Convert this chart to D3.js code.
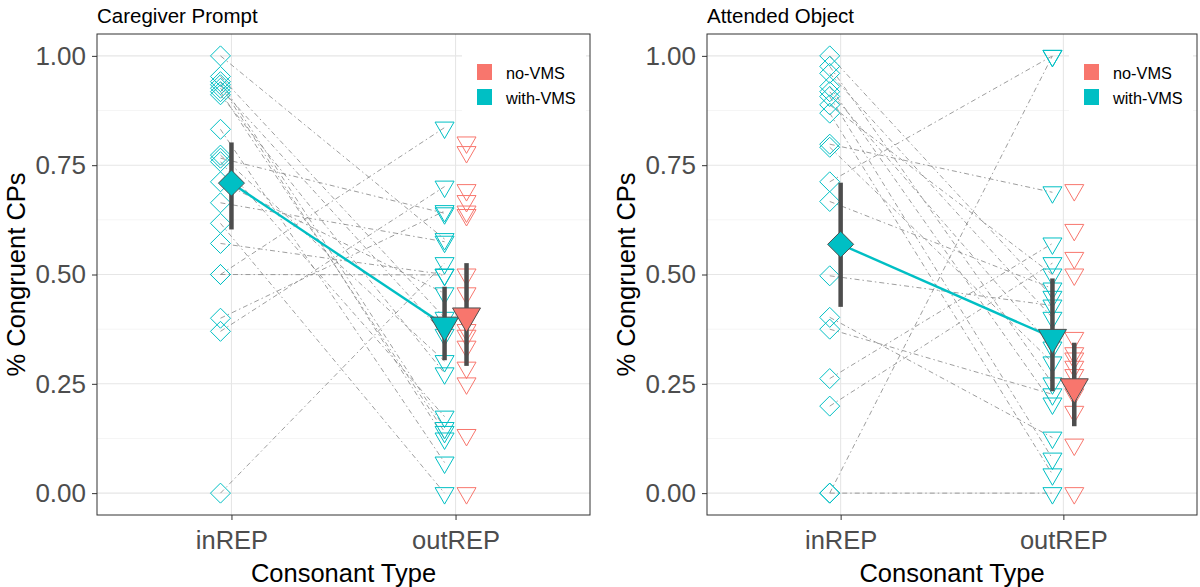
<!DOCTYPE html>
<html><head><meta charset="utf-8">
<script src="https://cdn.jsdelivr.net/npm/d3@7"></script>
<style>body{margin:0;background:#fff}svg{display:block}text{font-family:"Liberation Sans",Arial,sans-serif}</style>
</head><body><svg id="c" width="1200" height="587"></svg>
<script>
const categories = ["inREP", "outREP"];
const groups = ["no-VMS", "with-VMS"];
const groupColors = ["#F8766D", "#00BFC4"];
const panelTitles = ["Caregiver Prompt", "Attended Object"];
const yTicks = [0, 0.25, 0.5, 0.75, 1];
const yMinor = [0.125, 0.375, 0.625, 0.875];

// Caregiver Prompt: paired with-VMS subjects (inREP -> outREP)
const cpWithIn  = [1.00, 0.953, 0.941, 0.934, 0.926, 0.918, 0.911, 0.832, 0.773, 0.766, 0.758, 0.712, 0.664, 0.617, 0.571, 0.50, 0.50, 0.40, 0.37, 0.0];
const cpWithOut = [0.581, 0.401, 0.149, 0.125, 0.362, 0.14, 0.274, 0.07, 0.302, 0.64, 0.175, 0.457, 0.575, 0.0, 0.5, 0.836, 0.499, 0.645, 0.701, 0.526];
const cpNoOut   = [0.802, 0.78, 0.693, 0.668, 0.644, 0.636, 0.5, 0.457, 0.373, 0.36, 0.335, 0.287, 0.251, 0.133, 0.0];
// summaries: [with-VMS inREP, with-VMS outREP, no-VMS outREP]
const cpMean  = [0.709, 0.384, 0.405];
const cpLower = [0.603, 0.304, 0.291];
const cpUpper = [0.802, 0.472, 0.526];

// Attended Object
const aoWithIn  = [1.0, 0.976, 0.96, 0.93, 0.918, 0.907, 0.888, 0.869, 0.798, 0.791, 0.712, 0.667, 0.497, 0.402, 0.375, 0.262, 0.199, 0.0, 0.0];
const aoWithOut = [0.449, 0.251, 0.401, 0.205, 0.333, 0.079, 0.5, 0.043, 0.688, 0.299, 1.0, 0.468, 0.429, 0.127, 0.226, 0.571, 0.526, 1.0, 0.0];
const aoNoOut   = [0.693, 0.602, 0.538, 0.5, 0.355, 0.32, 0.308, 0.289, 0.27, 0.226, 0.186, 0.111, 0.0];
const aoMean  = [0.569, 0.356, 0.243];
const aoLower = [0.426, 0.233, 0.153];
const aoUpper = [0.710, 0.491, 0.344];

const panelsData = [
  {title: panelTitles[0], withIn: cpWithIn, withOut: cpWithOut, noOut: cpNoOut, mean: cpMean, lo: cpLower, hi: cpUpper},
  {title: panelTitles[1], withIn: aoWithIn, withOut: aoWithOut, noOut: aoNoOut, mean: aoMean, lo: aoLower, hi: aoUpper}
];
const panelBoxes = [{left: 97, right: 590}, {left: 707, right: 1197}];
const pTop = 34, pBottom = 515;

const svg = d3.select("#c");
const y = d3.scaleLinear().domain([-0.05, 1.05]).range([pBottom, pTop]);

function diamond(r) { return `M0,${-r}L${r},0L0,${r}L${-r},0Z`; }
function downTri(w) { const h = w * Math.sqrt(3) / 2; return `M${-w/2},${-h/3}L${w/2},${-h/3}L0,${2*h/3}Z`; }

panelsData.forEach((P, pi) => {
  const box = panelBoxes[pi];
  const x = d3.scalePoint().domain(categories).range([box.left, box.right]).padding(0.6);
  const dodge = x.step() * 0.049;
  const g = svg.append("g");

  // grid
  g.selectAll(".ymin").data(yMinor).join("line")
    .attr("x1", box.left).attr("x2", box.right).attr("y1", d => y(d)).attr("y2", d => y(d))
    .attr("stroke", "#F2F2F2").attr("stroke-width", 0.8);
  g.selectAll(".ymaj").data(yTicks).join("line")
    .attr("x1", box.left).attr("x2", box.right).attr("y1", d => y(d)).attr("y2", d => y(d))
    .attr("stroke", "#E6E6E6").attr("stroke-width", 1.1);
  g.selectAll(".xmaj").data(categories).join("line")
    .attr("x1", d => x(d)).attr("x2", d => x(d)).attr("y1", pTop).attr("y2", pBottom)
    .attr("stroke", "#E6E6E6").attr("stroke-width", 1.1);

  // legend background (covers grid)
  const lgX = box.right - 128;
  g.append("rect").attr("x", lgX).attr("y", 44).attr("width", 124).attr("height", 74).attr("fill", "#fff");

  // paired lines
  const pairs = P.withIn.map((v, i) => [v, P.withOut[i]]);
  g.selectAll(".pair").data(pairs).join("line")
    .attr("x1", x("inREP") - dodge).attr("x2", x("outREP") - dodge)
    .attr("y1", d => y(d[0])).attr("y2", d => y(d[1]))
    .attr("stroke", "#808080").attr("stroke-opacity", 0.85).attr("stroke-width", 0.9)
    .attr("stroke-dasharray", "5,3,1.5,3");

  // individual points
  g.selectAll(".din").data(P.withIn).join("path")
    .attr("d", diamond(10)).attr("transform", d => `translate(${x("inREP") - dodge},${y(d)})`)
    .attr("fill", "none").attr("stroke", groupColors[1]).attr("stroke-width", 1);
  g.selectAll(".twith").data(P.withOut).join("path")
    .attr("d", downTri(19)).attr("transform", d => `translate(${x("outREP") - dodge},${y(d)})`)
    .attr("fill", "none").attr("stroke", groupColors[1]).attr("stroke-width", 1);
  g.selectAll(".tno").data(P.noOut).join("path")
    .attr("d", downTri(19)).attr("transform", d => `translate(${x("outREP") + dodge},${y(d)})`)
    .attr("fill", "none").attr("stroke", groupColors[0]).attr("stroke-width", 1);

  // summaries
  const summ = [
    {cat: "inREP", off: 0, grp: 1, shape: "d", m: P.mean[0], lo: P.lo[0], hi: P.hi[0]},
    {cat: "outREP", off: -dodge, grp: 1, shape: "t", m: P.mean[1], lo: P.lo[1], hi: P.hi[1]},
    {cat: "outREP", off: dodge, grp: 0, shape: "t", m: P.mean[2], lo: P.lo[2], hi: P.hi[2]}
  ];
  g.append("line")
    .attr("x1", x(summ[0].cat) + summ[0].off).attr("y1", y(summ[0].m))
    .attr("x2", x(summ[1].cat) + summ[1].off).attr("y2", y(summ[1].m))
    .attr("stroke", groupColors[1]).attr("stroke-width", 2.4);
  g.selectAll(".eb").data(summ).join("line")
    .attr("x1", d => x(d.cat) + d.off).attr("x2", d => x(d.cat) + d.off)
    .attr("y1", d => y(d.lo)).attr("y2", d => y(d.hi))
    .attr("stroke", "#4D4D4D").attr("stroke-width", 4.5);
  g.selectAll(".sp").data(summ).join("path")
    .attr("d", d => d.shape === "d" ? diamond(13) : downTri(28))
    .attr("transform", d => `translate(${x(d.cat) + d.off},${y(d.m)})`)
    .attr("fill", d => groupColors[d.grp]).attr("stroke", "#4D4D4D").attr("stroke-width", 1);

  // legend
  const lg = g.append("g");
  groups.forEach((gr, i) => {
    lg.append("rect").attr("x", lgX + 15).attr("y", 64 + i * 25).attr("width", 15).attr("height", 16)
      .attr("fill", groupColors[i]);
    lg.append("text").attr("x", lgX + 44).attr("y", 79 + i * 25).attr("font-size", 16.3).attr("fill", "#000").text(gr);
  });

  // border
  g.append("rect").attr("x", box.left).attr("y", pTop).attr("width", box.right - box.left).attr("height", pBottom - pTop)
    .attr("fill", "none").attr("stroke", "#333").attr("stroke-width", 1);

  // axes
  const ya = g.append("g").attr("transform", `translate(${box.left},0)`)
    .call(d3.axisLeft(y).tickValues(yTicks).tickFormat(d3.format(".2f")).tickSize(5).tickPadding(6));
  ya.select(".domain").remove();
  ya.selectAll(".tick line").attr("stroke", "#333");
  ya.selectAll(".tick text").attr("font-size", 26).attr("fill", "#4D4D4D").attr("font-family", "Liberation Sans, Arial, sans-serif");

  const xa = g.append("g").attr("transform", `translate(0,${pBottom})`)
    .call(d3.axisBottom(x).tickSize(5).tickPadding(11));
  xa.select(".domain").remove();
  xa.selectAll(".tick line").attr("stroke", "#333");
  xa.selectAll(".tick text").attr("font-size", 25.5).attr("fill", "#4D4D4D").attr("font-family", "Liberation Sans, Arial, sans-serif");

  g.append("text").attr("x", (box.left + box.right) / 2).attr("y", 582).attr("text-anchor", "middle")
    .attr("font-size", 25.5).attr("fill", "#000").text("Consonant Type");
  g.append("text").attr("transform", `translate(${box.left - 72},${(pTop + pBottom) / 2}) rotate(-90)`)
    .attr("text-anchor", "middle").attr("font-size", 25.5).attr("fill", "#000").text("% Congruent CPs");
  g.append("text").attr("x", box.left).attr("y", 23).attr("font-size", 20.5).attr("fill", "#000").text(P.title);
});
</script></body></html>
